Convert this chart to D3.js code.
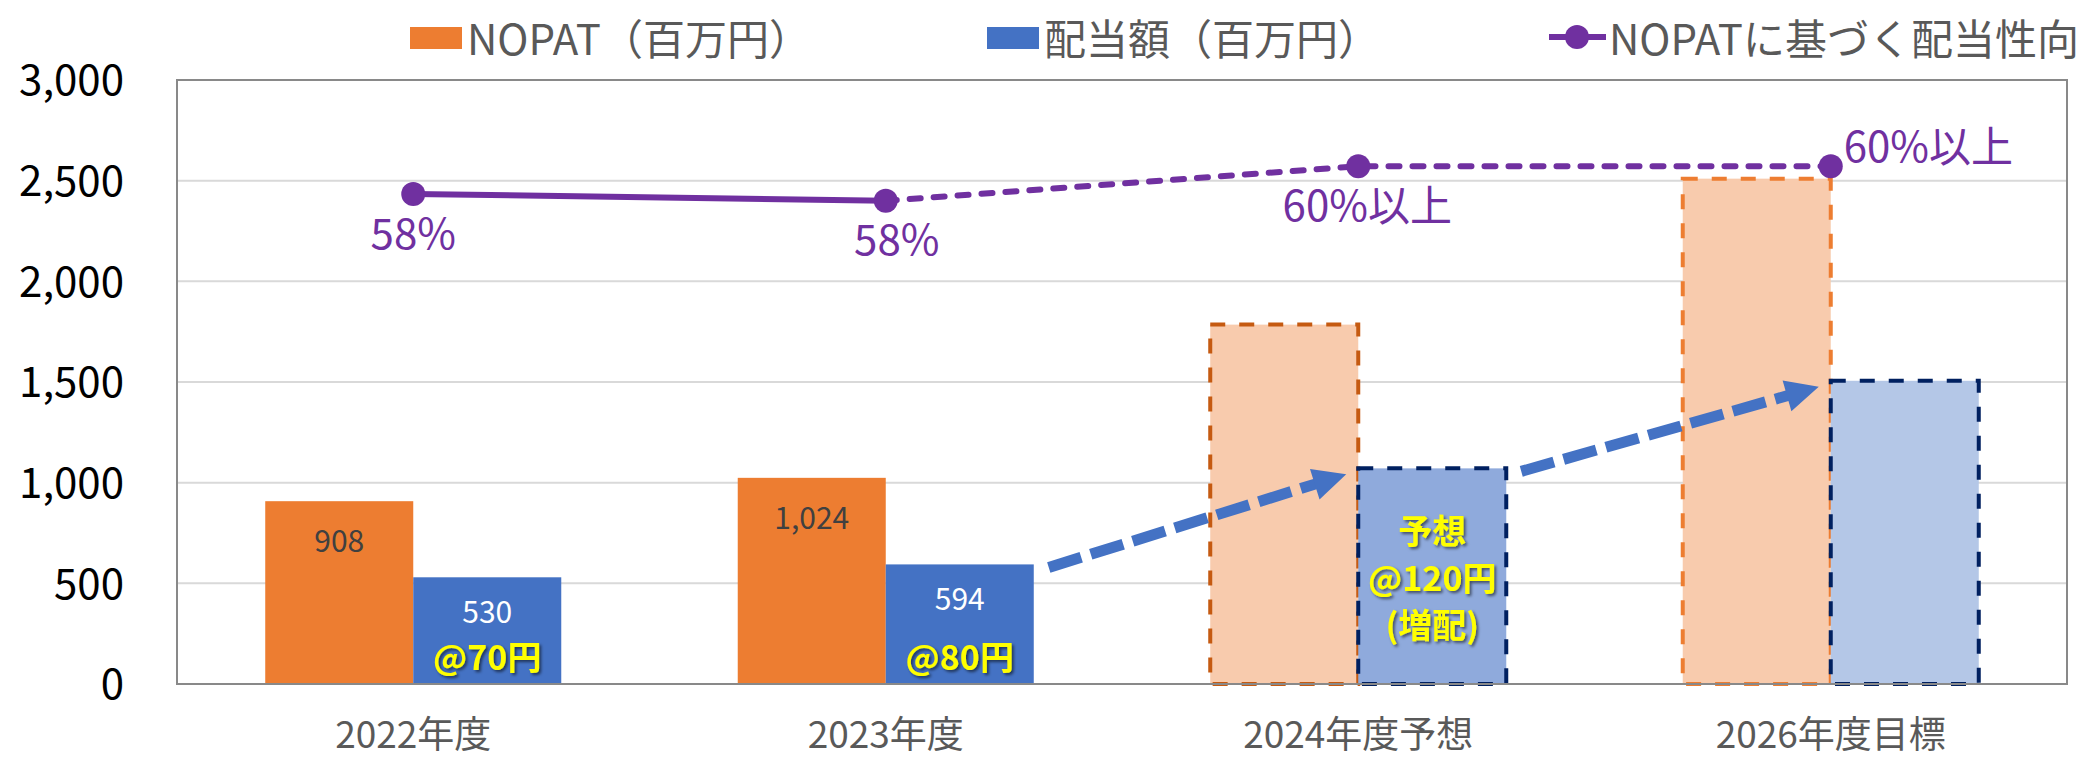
<!DOCTYPE html>
<html>
<head>
<meta charset="utf-8">
<script src="https://cdn.jsdelivr.net/npm/d3@7"></script>
<style>
  html, body { margin: 0; padding: 0; background: #fff; }
  svg { display: block; font-family: "Noto Sans CJK JP", "Noto Sans", sans-serif; }
</style>
</head>
<body>
<svg id="chart" width="2092" height="759"></svg>
<script>
// data
const categories = ["2022年度", "2023年度", "2024年度予想", "2026年度目標"];
const nopat = [908, 1024, 1785, 2510];
const dividend = [530, 594, 1071, 1506];
const payout = [0.584, 0.580, 0.600, 0.600];
const payoutLabels = ["58%", "58%", "60%以上", "60%以上"];
const perShare = [["@70円"], ["@80円"], ["予想", "@120円", "(増配)"], []];
const isPlan = [false, false, true, true];
const yTicks = [0, 500, 1000, 1500, 2000, 2500, 3000];
const seriesNames = ["NOPAT（百万円）", "配当額（百万円）", "NOPATに基づく配当性向"];

const width = 2092, height = 759;
const margin = { top: 80, right: 25, bottom: 75, left: 177 };
const orange = "#ED7D31", blue = "#4472C4", purple = "#7030A0";

// plan bars get their own light fills / dashed outlines
const planStyle = {
  2: { nopatFill: "#F8CBAD", nopatStroke: "#C55A11", divFill: "#8FAADC", divStroke: "#002060" },
  3: { nopatFill: "#F8CBAD", nopatStroke: "#ED7D31", divFill: "#B4C7E7", divStroke: "#002060" }
};
// payout label placement: [dx, dy, anchor]
const payoutLabelPos = [[0, 37, "middle"], [11, 36, "middle"], [9, 36, "middle"], [13, -23, "start"]];

const svg = d3.select("#chart");

const x = d3.scaleBand()
  .domain(categories)
  .range([margin.left, width - margin.right])
  .paddingInner(0.3735)
  .paddingOuter(0.18675);
const x1 = d3.scaleBand().domain(["nopat", "div"]).range([0, x.bandwidth()]);
const y = d3.scaleLinear().domain([0, 3000]).range([height - margin.bottom, margin.top]);
const y2 = d3.scaleLinear().domain([0.30, 0.65]).range([height - margin.bottom, margin.top]);

const defs = svg.append("defs");
const shadow = defs.append("filter").attr("id", "shadow")
  .attr("x", "-20%").attr("y", "-20%").attr("width", "140%").attr("height", "140%");
shadow.append("feDropShadow")
  .attr("dx", 2).attr("dy", 2).attr("stdDeviation", 1.5)
  .attr("flood-color", "#000").attr("flood-opacity", 0.55);

// gridlines
svg.append("g")
  .selectAll("line")
  .data(yTicks.filter(d => d > 0 && d < 3000))
  .enter().append("line")
  .attr("x1", margin.left).attr("x2", width - margin.right)
  .attr("y1", d => y(d)).attr("y2", d => y(d))
  .attr("stroke", "#D9D9D9").attr("stroke-width", 2);

// y axis labels
const yAxis = svg.append("g")
  .attr("transform", `translate(${margin.left - 53},0)`)
  .call(d3.axisLeft(y).tickValues(yTicks).tickFormat(d3.format(",")).tickSize(0).tickPadding(0));
yAxis.select(".domain").remove();
yAxis.selectAll("text")
  .attr("font-size", 42).attr("fill", "#000")
  .attr("font-family", "\"Noto Sans CJK JP\", sans-serif")
  .attr("dy", "0.35em");

// x axis labels
const xAxis = svg.append("g")
  .attr("transform", `translate(0,${height - margin.bottom})`)
  .call(d3.axisBottom(x).tickSize(0).tickPadding(0));
xAxis.select(".domain").remove();
xAxis.selectAll("text")
  .attr("font-size", 37).attr("fill", "#595959")
  .attr("font-family", "\"Noto Sans CJK JP\", sans-serif")
  .attr("y", 51).attr("dy", "0.35em");

// bars
const rows = categories.map((c, i) => ({ c, i, nopat: nopat[i], div: dividend[i] }));
const groups = svg.append("g").selectAll("g")
  .data(rows).enter().append("g")
  .attr("transform", d => `translate(${x(d.c)},0)`);

groups.append("rect")
  .attr("x", x1("nopat")).attr("width", x1.bandwidth())
  .attr("y", d => y(d.nopat)).attr("height", d => y(0) - y(d.nopat))
  .attr("fill", d => isPlan[d.i] ? planStyle[d.i].nopatFill : orange)
  .attr("stroke", d => isPlan[d.i] ? planStyle[d.i].nopatStroke : "none")
  .attr("stroke-width", 4).attr("stroke-dasharray", "15,14");

groups.append("rect")
  .attr("x", x1("div")).attr("width", x1.bandwidth())
  .attr("y", d => y(d.div)).attr("height", d => y(0) - y(d.div))
  .attr("fill", d => isPlan[d.i] ? planStyle[d.i].divFill : blue)
  .attr("stroke", d => isPlan[d.i] ? planStyle[d.i].divStroke : "none")
  .attr("stroke-width", 4).attr("stroke-dasharray", "15,14");

// plot border
svg.append("rect")
  .attr("x", margin.left).attr("y", margin.top)
  .attr("width", width - margin.left - margin.right)
  .attr("height", height - margin.top - margin.bottom)
  .attr("fill", "none").attr("stroke", "#898989").attr("stroke-width", 2);

// value labels for actual years
const actual = groups.filter(d => !isPlan[d.i]);
actual.append("text")
  .attr("x", x1("nopat") + x1.bandwidth() / 2)
  .attr("y", d => y(d.nopat) + 38)
  .attr("text-anchor", "middle").attr("dominant-baseline", "central")
  .attr("font-size", 30).attr("fill", "#404040")
  .text(d => d3.format(",")(d.nopat));
actual.append("text")
  .attr("x", x1("div") + x1.bandwidth() / 2)
  .attr("y", d => y(d.div) + 33)
  .attr("text-anchor", "middle").attr("dominant-baseline", "central")
  .attr("font-size", 30).attr("fill", "#fff")
  .text(d => d3.format(",")(d.div));

// per-share dividend notes (yellow)
groups.each(function(d) {
  const lines = perShare[d.i];
  if (!lines.length) return;
  const cx = x1("div") + x1.bandwidth() / 2;
  const lh = 47;
  const midY = lines.length > 1 ? (y(d.div) + y(0)) / 2 : y(0) - 29;
  d3.select(this).selectAll("text.ps")
    .data(lines).enter().append("text")
    .attr("class", "ps")
    .attr("x", cx)
    .attr("y", (t, k) => midY + (k - (lines.length - 1) / 2) * lh)
    .attr("text-anchor", "middle").attr("dominant-baseline", "central")
    .attr("font-size", 34).attr("font-weight", 700).attr("fill", "#FFFF00")
    .attr("filter", "url(#shadow)")
    .text(t => t);
});

// dashed growth arrows between dividend bars
const arrowG = svg.append("g");
for (let i = 1; i < categories.length - 1; i++) {
  const x0 = x(categories[i]) + x1("div") + x1.bandwidth() + 15;
  const yA = y(dividend[i]) + 3;
  const xT = x(categories[i + 1]) + x1("div") - 12;
  const yT = y(dividend[i + 1]) + 6;
  const dx = xT - x0, dy = yT - yA, len = Math.hypot(dx, dy);
  const ux = dx / len, uy = dy / len;
  const head = 33, half = 16;
  const bx = xT - ux * head, by = yT - uy * head;
  arrowG.append("line")
    .attr("x1", x0).attr("y1", yA).attr("x2", bx + ux * 2).attr("y2", by + uy * 2)
    .attr("stroke", blue).attr("stroke-width", 11).attr("stroke-dasharray", "34,10");
  arrowG.append("polygon")
    .attr("points", [[xT, yT], [bx - uy * half, by + ux * half], [bx + uy * half, by - ux * half]].join(" "))
    .attr("fill", blue);
}

// payout ratio line (secondary axis, hidden)
const pts = categories.map((c, i) => [x(c) + x.bandwidth() / 2, y2(payout[i])]);
const line = d3.line();
svg.append("path")
  .attr("d", line(pts.slice(0, 2)))
  .attr("fill", "none").attr("stroke", purple).attr("stroke-width", 6);
svg.append("path")
  .attr("d", line(pts.slice(1)))
  .attr("fill", "none").attr("stroke", purple).attr("stroke-width", 6)
  .attr("stroke-linecap", "round").attr("stroke-dasharray", "11,13");
svg.append("g").selectAll("circle")
  .data(pts).enter().append("circle")
  .attr("cx", d => d[0]).attr("cy", d => d[1]).attr("r", 12)
  .attr("fill", purple);
svg.append("g").selectAll("text")
  .data(pts).enter().append("text")
  .attr("x", (d, i) => d[0] + payoutLabelPos[i][0])
  .attr("y", (d, i) => d[1] + payoutLabelPos[i][1])
  .attr("text-anchor", (d, i) => payoutLabelPos[i][2])
  .attr("dominant-baseline", "central")
  .attr("font-size", 42).attr("fill", purple)
  .text((d, i) => payoutLabels[i]);

// legend
const legend = svg.append("g").attr("font-size", 42).attr("fill", "#595959");
legend.append("rect").attr("x", 410).attr("y", 27).attr("width", 52).attr("height", 22).attr("fill", orange);
legend.append("text").attr("x", 467).attr("y", 36).attr("dominant-baseline", "central").text(seriesNames[0]);
legend.append("rect").attr("x", 987).attr("y", 27).attr("width", 52).attr("height", 22).attr("fill", blue);
legend.append("text").attr("x", 1044).attr("y", 36).attr("dominant-baseline", "central").text(seriesNames[1]);
legend.append("line").attr("x1", 1549).attr("x2", 1606).attr("y1", 37).attr("y2", 37)
  .attr("stroke", purple).attr("stroke-width", 6);
legend.append("circle").attr("cx", 1577).attr("cy", 37).attr("r", 12).attr("fill", purple);
legend.append("text").attr("x", 1609).attr("y", 36).attr("dominant-baseline", "central").text(seriesNames[2]);
</script>
</body>
</html>
